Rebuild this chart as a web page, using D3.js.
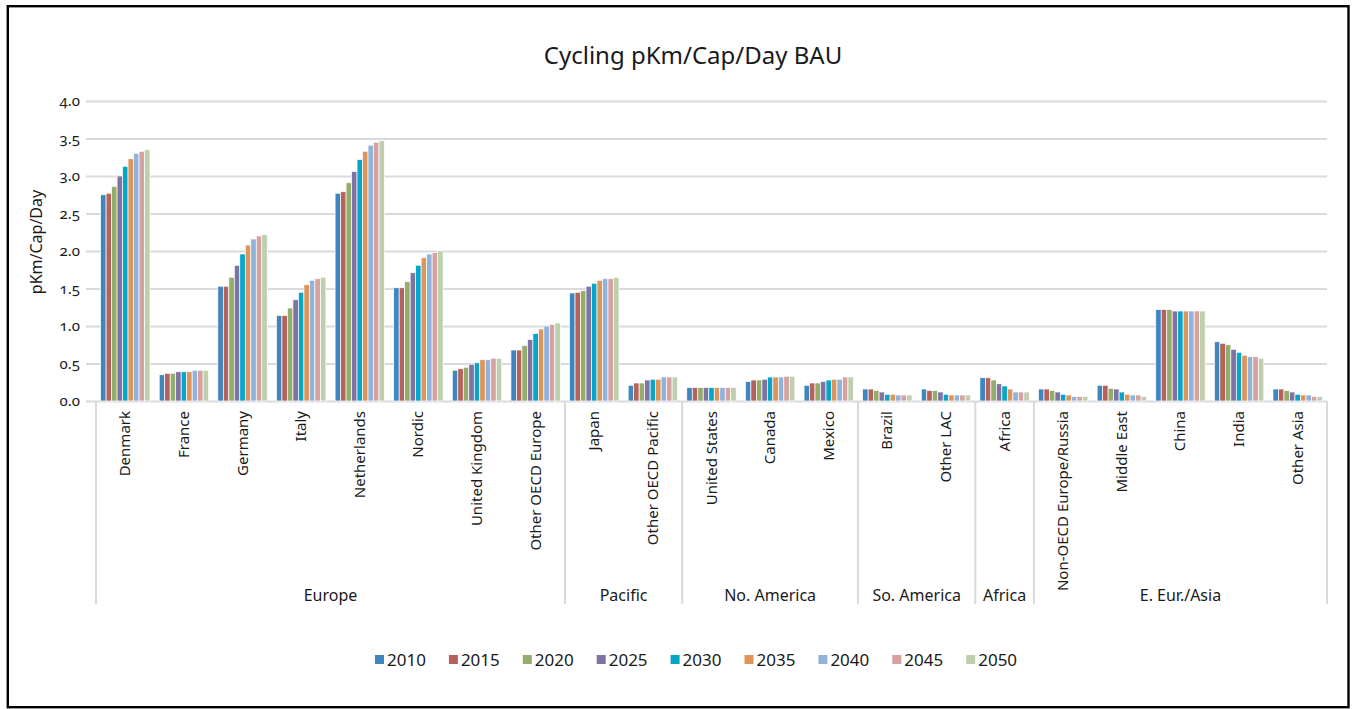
<!DOCTYPE html>
<html>
<head>
<meta charset="utf-8">
<script src="https://cdn.jsdelivr.net/npm/d3@7"></script>
<style>
  body { margin: 0; background: #fff; }
  svg text { font-family: "Noto Sans", sans-serif; fill: #1a1a1a; }
</style>
</head>
<body>
<div id="chart"></div>
<script>
let width = 1354
  , height = 709
  , plotLeft = 96
  , plotRight = 1327
  , plotTop = 101
  , plotBottom = 401
  , axisBottom = 604;

// regions, in the order they sit on the x axis
let regions = ["Denmark", "France", "Germany", "Italy", "Netherlands", "Nordic",
  "United Kingdom", "Other OECD Europe", "Japan", "Other OECD Pacific",
  "United States", "Canada", "Mexico", "Brazil", "Other LAC", "Africa",
  "Non-OECD Europe/Russia", "Middle East", "China", "India", "Other Asia"];

// outer category of each region
let regionGroup = ["Europe", "Europe", "Europe", "Europe", "Europe", "Europe",
  "Europe", "Europe", "Pacific", "Pacific",
  "No. America", "No. America", "No. America", "So. America", "So. America", "Africa",
  "E. Eur./Asia", "E. Eur./Asia", "E. Eur./Asia", "E. Eur./Asia", "E. Eur./Asia"];

let years = ["2010", "2015", "2020", "2025", "2030", "2035", "2040", "2045", "2050"];

// pKm/Cap/Day per region, one list per year
let y2010 = [2.75, 0.35, 1.53, 1.14, 2.77, 1.51, 0.41, 0.68, 1.44, 0.21, 0.18, 0.26, 0.21, 0.16, 0.16, 0.31, 0.16, 0.21, 1.22, 0.79, 0.16];
let y2015 = [2.77, 0.37, 1.53, 1.14, 2.79, 1.51, 0.43, 0.68, 1.45, 0.24, 0.18, 0.28, 0.24, 0.16, 0.14, 0.31, 0.16, 0.21, 1.22, 0.77, 0.16];
let y2020 = [2.86, 0.37, 1.65, 1.24, 2.91, 1.59, 0.45, 0.74, 1.47, 0.24, 0.18, 0.28, 0.24, 0.14, 0.14, 0.28, 0.14, 0.17, 1.22, 0.75, 0.14];
let y2025 = [3.00, 0.39, 1.81, 1.35, 3.06, 1.71, 0.49, 0.82, 1.53, 0.28, 0.18, 0.29, 0.26, 0.12, 0.12, 0.23, 0.12, 0.16, 1.20, 0.69, 0.12];
let y2030 = [3.13, 0.39, 1.96, 1.45, 3.22, 1.81, 0.51, 0.90, 1.57, 0.29, 0.18, 0.32, 0.28, 0.09, 0.09, 0.20, 0.09, 0.12, 1.20, 0.65, 0.09];
let y2035 = [3.23, 0.39, 2.08, 1.55, 3.33, 1.91, 0.55, 0.96, 1.61, 0.29, 0.18, 0.32, 0.29, 0.09, 0.08, 0.16, 0.08, 0.09, 1.20, 0.61, 0.08];
let y2040 = [3.30, 0.41, 2.16, 1.61, 3.41, 1.96, 0.55, 1.00, 1.63, 0.32, 0.18, 0.32, 0.29, 0.08, 0.08, 0.12, 0.06, 0.08, 1.20, 0.59, 0.08];
let y2045 = [3.33, 0.41, 2.20, 1.63, 3.45, 1.98, 0.57, 1.02, 1.63, 0.32, 0.18, 0.33, 0.32, 0.08, 0.08, 0.12, 0.06, 0.08, 1.20, 0.59, 0.06];
let y2050 = [3.35, 0.41, 2.22, 1.65, 3.47, 2.00, 0.57, 1.04, 1.65, 0.32, 0.18, 0.33, 0.32, 0.08, 0.08, 0.12, 0.06, 0.06, 1.20, 0.57, 0.06];

let series = [y2010, y2015, y2020, y2025, y2030, y2035, y2040, y2045, y2050];

let yTicks = [0, 0.5, 1, 1.5, 2, 2.5, 3, 3.5, 4];

let colors = ["#3f86bf", "#b5625c", "#94ad6b", "#7f73a3", "#07a6c9",
  "#de9559", "#90b2db", "#d5a2a1", "#bfcfad"];

let svg = d3.select("#chart").append("svg")
  .attr("width", width).attr("height", height);

// outer frame
svg.append("rect")
  .attr("x", 7.8).attr("y", 6.2)
  .attr("width", 1348.5 - 7.8).attr("height", 707.2 - 6.2)
  .attr("fill", "#fff").attr("stroke", "#000").attr("stroke-width", 2.4);

svg.append("text")
  .attr("x", 693).attr("y", 64)
  .attr("text-anchor", "middle")
  .style("font-size", "24px")
  .text("Cycling pKm/Cap/Day BAU");

let x0 = d3.scaleBand().domain(regions).range([plotLeft, plotRight]);
let x1 = d3.scaleBand().domain(years).range([4.6, x0.bandwidth() - 4.6]);
let y = d3.scaleLinear().domain([0, 4]).range([plotBottom, plotTop]);
let color = d3.scaleOrdinal().domain(years).range(colors);

// gridlines + y tick labels
let yAxis = svg.append("g")
  .attr("transform", "translate(86,0)")
  .call(d3.axisLeft(y).tickValues(yTicks).tickFormat(d3.format(".1f"))
    .tickSize(-(plotRight - 86)).tickPadding(6));
yAxis.select(".domain").remove();
yAxis.selectAll("line").attr("stroke", "#d9d9de").attr("stroke-width", 2);
yAxis.selectAll("text")
  .style("font-size", "15px")
  .style("font-variant-numeric", "oldstyle-nums")
  .style("font-family", "\"Noto Sans\", sans-serif")
  .attr("fill", "#1a1a1a");

svg.append("text")
  .attr("transform", "translate(42,242) rotate(-90)")
  .attr("text-anchor", "middle")
  .style("font-size", "16px")
  .text("pKm/Cap/Day");

// bars
let rows = regions.map((r, i) => ({
  region: r,
  vals: years.map((yr, j) => ({ year: yr, value: series[j][i] }))
}));

svg.append("g").selectAll("g")
  .data(rows).enter()
  .append("g")
  .attr("transform", d => "translate(" + x0(d.region) + ",0)")
  .selectAll("rect")
  .data(d => d.vals).enter()
  .append("rect")
  .attr("x", d => x1(d.year))
  .attr("y", d => y(d.value))
  .attr("width", x1.bandwidth())
  .attr("height", d => y(0) - y(d.value))
  .attr("fill", d => color(d.year))
  .attr("stroke", "#fff").attr("stroke-width", 0.7);

// category labels
svg.append("g").selectAll("text")
  .data(regions).enter()
  .append("text")
  .attr("transform", d => "translate(" + (x0(d) + x0.bandwidth() / 2 + 5) + ",411) rotate(-90)")
  .attr("text-anchor", "end")
  .style("font-size", "15px")
  .text(d => d);

// outer group spans
let groups = [];
regionGroup.forEach((g, i) => {
  let last = groups[groups.length - 1];
  if (last && last.name === g) last.end = regions[i];
  else groups.push({ name: g, start: regions[i], end: regions[i] });
});

let bounds = [plotLeft].concat(groups.map(g => x0(g.end) + x0.bandwidth()));
svg.append("g").selectAll("line")
  .data(bounds).enter()
  .append("line")
  .attr("x1", d => d).attr("x2", d => d)
  .attr("y1", plotBottom).attr("y2", axisBottom)
  .attr("stroke", "#d9d9de").attr("stroke-width", 2);

svg.append("g").selectAll("text")
  .data(groups).enter()
  .append("text")
  .attr("x", d => (x0(d.start) + x0(d.end) + x0.bandwidth()) / 2)
  .attr("y", 601)
  .attr("text-anchor", "middle")
  .style("font-size", "16px")
  .text(d => d.name);

// legend
let legend = svg.append("g").selectAll("g")
  .data(years).enter()
  .append("g")
  .attr("transform", (d, i) => "translate(" + (375 + i * 73.9) + ",655)");
legend.append("rect")
  .attr("width", 9).attr("height", 9)
  .attr("fill", d => color(d));
legend.append("text")
  .attr("x", 12).attr("y", 10.5)
  .style("font-size", "17px")
  .text(d => d);
</script>
</body>
</html>
